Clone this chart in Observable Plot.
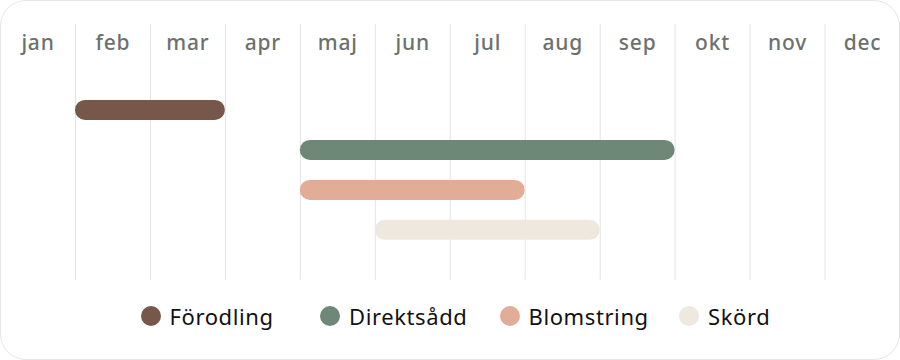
<!DOCTYPE html>
<html>
<head>
<meta charset="utf-8">
<script src="https://cdn.jsdelivr.net/npm/d3@7"></script>
<script src="https://cdn.jsdelivr.net/npm/@observablehq/plot@0.6"></script>
<style>
  html, body { margin: 0; padding: 0; background: #fff; }
  #card {
    position: relative; width: 900px; height: 360px; box-sizing: border-box;
    border: 1.5px solid #e6e6e6; border-radius: 26px; overflow: hidden;
    font-family: "Noto Sans", sans-serif;
  }
  #chart { position: absolute; left: -1.5px; top: -1.5px; }
  #legend {
    position: absolute; left: 139.5px; top: 300px; height: 30px;
    display: flex; align-items: center;
    font-size: 22px; letter-spacing: 0.6px; color: #111;
  }
  .item { display: flex; align-items: center; gap: 9px; width: 179.5px; }
  .dot { width: 20px; height: 20px; border-radius: 50%; display: inline-block; flex: none; }
</style>
</head>
<body>
<div id="card">
  <div id="chart"></div>
  <div id="legend"></div>
</div>
<script>
const months = ["jan","feb","mar","apr","maj","jun","jul","aug","sep","okt","nov","dec"];
const phases = ["Förodling","Direktsådd","Blomstring","Skörd"];
const startMonth = [2, 5, 5, 6];
const endMonth = [3, 9, 7, 8];
const colors = ["#76574a", "#6e8877", "#e1ad97", "#efe8df"];

const bars = phases.map((p, i) => ({phase: p, start: startMonth[i] - 1, end: endMonth[i]}));
const monthData = months.map((m, i) => ({m, i}));
const boundaries = d3.range(1, 12);

const chart = Plot.plot({
  width: 900,
  height: 290,
  margin: 0,
  x: {domain: [0, 12], range: [0, 900], axis: null},
  y: {domain: phases, range: [90, 250], paddingInner: 0.5, paddingOuter: 0.25, axis: null},
  color: {domain: phases, range: colors},
  marks: [
    Plot.ruleX(boundaries, {x: d => d, stroke: "#e4e4e4", strokeWidth: 1, insetTop: 24, insetBottom: 10}),
    Plot.text(monthData, {
      x: d => d.i + 0.5, text: "m", frameAnchor: "top", dy: 43,
      fill: "#6d716e", fontSize: 21, fontWeight: 500, lineAnchor: "middle",
      fontFamily: "Noto Sans", letterSpacing: 0.8
    }),
    Plot.barX(bars, {x1: "start", x2: "end", y: "phase", fill: "phase", rx: 10})
  ]
});
chart.querySelectorAll("text").forEach(t => t.style.letterSpacing = "0.8px");
document.getElementById("chart").append(chart);

const legend = document.getElementById("legend");
phases.forEach((p, i) => {
  const item = document.createElement("div");
  item.className = "item";
  const dot = document.createElement("span");
  dot.className = "dot";
  dot.style.background = colors[i];
  const label = document.createElement("span");
  label.textContent = p;
  item.append(dot, label);
  legend.append(item);
});
</script>
</body>
</html>
